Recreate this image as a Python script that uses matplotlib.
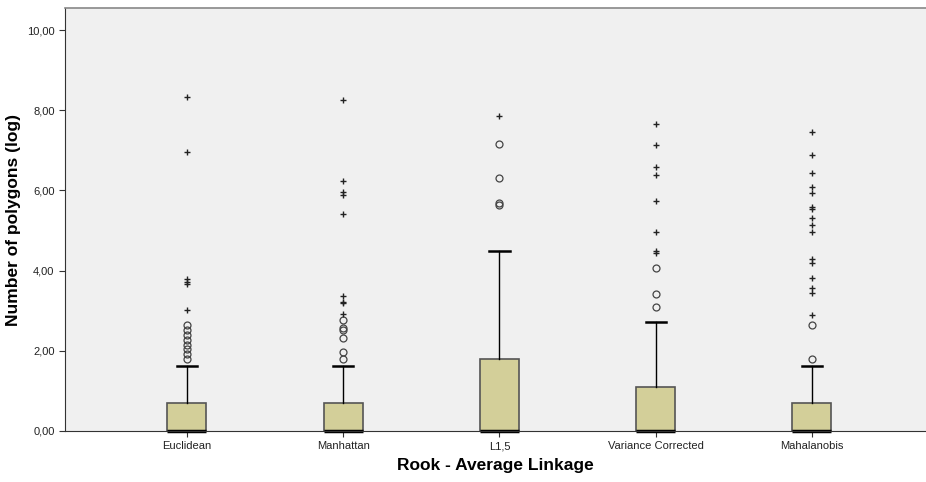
import matplotlib.pyplot as plt
from matplotlib.ticker import FuncFormatter

# data
methods = ["Euclidean", "Manhattan", "L1,5", "Variance Corrected", "Mahalanobis"]
q1 = [0.0, 0.0, 0.0, 0.0, 0.0]
median = [0.0, 0.0, 0.0, 0.0, 0.0]
q3 = [0.70, 0.70, 1.80, 1.10, 0.69]
whisk_lo = [0.0, 0.0, 0.0, 0.0, 0.0]
whisk_hi = [1.61, 1.61, 4.49, 2.71, 1.61]

# outliers (circles)
outliers = [
    [2.64, 2.52, 2.39, 2.27, 2.14, 2.04, 1.92, 1.79],
    [2.77, 2.56, 2.52, 2.31, 1.98, 1.79],
    [7.17, 6.31, 5.68, 5.64],
    [4.06, 3.42, 3.09],
    [2.64, 1.80],
]
# extreme values (plus signs)
extremes = [
    [8.34, 6.95, 3.78, 3.72, 3.66, 3.02],
    [8.25, 6.23, 5.96, 5.89, 5.40, 3.37, 3.22, 3.18, 2.93],
    [7.86],
    [7.66, 7.13, 6.58, 6.38, 5.73, 4.96, 4.49, 4.43],
    [7.46, 6.88, 6.44, 6.08, 5.94, 5.58, 5.53, 5.30, 5.14, 4.97,
     4.29, 4.20, 3.81, 3.56, 3.43, 2.89],
]

plt.rcParams['font.family'] = ['Liberation Sans', 'DejaVu Sans']

fig = plt.figure(figsize=(9.26, 4.82), dpi=100)
ax = fig.add_axes([65 / 926, 51 / 482, 861 / 926, 423 / 482])
ax.set_facecolor("#f0f0f0")

stats = []
for i in range(len(methods)):
    stats.append(dict(med=median[i], q1=q1[i], q3=q3[i],
                      whislo=whisk_lo[i], whishi=whisk_hi[i], fliers=[]))

pos = list(range(len(methods)))
bp = ax.bxp(stats, positions=pos, widths=0.25, capwidths=0.13, showfliers=False,
            patch_artist=True,
            boxprops=dict(facecolor="#d3cf99", edgecolor="#555555", linewidth=1.2),
            medianprops=dict(color="black", linewidth=2.5),
            whiskerprops=dict(color="black", linewidth=1.0),
            capprops=dict(color="black", linewidth=1.8))
for m in bp["medians"]:
    m.set_clip_on(False)

for i in pos:
    ax.plot([i] * len(outliers[i]), outliers[i], linestyle="none", marker="o",
            markersize=5, markerfacecolor="none", markeredgecolor="#444444",
            markeredgewidth=0.9)
    ax.plot([i] * len(extremes[i]), extremes[i], linestyle="none", marker="+",
            markersize=5, color="#222222", markeredgewidth=1.0)

ax.set_xlim(-0.78, 4.73)
ax.set_ylim(0, 10.55)
ax.set_yticks([0, 2, 4, 6, 8, 10])
ax.yaxis.set_major_formatter(FuncFormatter(lambda v, p: f"{v:.2f}".replace(".", ",")))
ax.set_xticks(pos)
ax.set_xticklabels(methods)
ax.tick_params(axis="both", labelsize=8, color="#333333", labelcolor="#222222",
               length=4, width=0.8)

ax.spines["right"].set_visible(False)
ax.spines["top"].set_color("#888888")
ax.spines["top"].set_linewidth(1.2)
ax.spines["left"].set_color("#333333")
ax.spines["bottom"].set_color("#333333")

ax.set_xlabel("Rook - Average Linkage", fontsize=12.5, fontweight="bold", labelpad=5)
ax.set_ylabel("Number of polygons (log)", fontsize=12.5, fontweight="bold", labelpad=4)

fig.savefig("out.png", dpi=100)
